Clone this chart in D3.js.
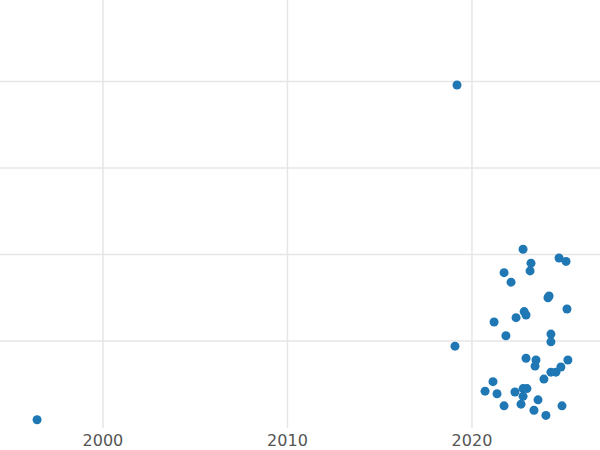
<!DOCTYPE html>
<html>
<head>
  <script src="https://d3js.org/d3.v7.min.js"></script>
  <style>body{margin:0;background:#fff;}</style>
</head>
<body>
<script>
  var years = [1996.43, 2019.19, 2019.08, 2022.77, 2023.2, 2024.72, 2025.1, 2021.74, 2023.15, 2022.12,
    2024.18, 2024.12, 2025.15, 2022.83, 2022.93, 2022.39, 2021.2, 2021.84, 2024.28, 2024.28,
    2022.93, 2023.47, 2025.2, 2023.42, 2024.28, 2024.55, 2024.82, 2023.9, 2021.14, 2020.71,
    2021.36, 2022.33, 2022.77, 2022.98, 2022.77, 2023.58, 2021.74, 2022.66, 2024.88, 2023.36, 2024.01];
  var values = [0.09, 3.96, 0.94, 2.06, 1.90, 1.96, 1.92, 1.79, 1.81, 1.68,
    1.52, 1.50, 1.37, 1.34, 1.30, 1.27, 1.22, 1.06, 1.08, 0.99,
    0.80, 0.78, 0.78, 0.71, 0.64, 0.64, 0.70, 0.56, 0.53, 0.42,
    0.39, 0.41, 0.45, 0.45, 0.36, 0.32, 0.25, 0.27, 0.25, 0.20, 0.14];
  var xTicks = [2000, 2010, 2020];
  var yGrid = [1, 2, 3, 4];

  var w = 600, h = 450;
  var svg = d3.select("body").append("svg").attr("width", w).attr("height", h);

  var x = d3.scaleLinear().domain([1994.42, 2026.94]).range([0, w]);
  var y = d3.scaleLinear().domain([0, 4.942]).range([427.5, 0]);

  svg.selectAll("line.h").data(yGrid).enter().append("line")
    .attr("x1", 0).attr("x2", w)
    .attr("y1", function(d){ return y(d); }).attr("y2", function(d){ return y(d); })
    .attr("stroke", "#e6e6e6").attr("stroke-width", 1.5);

  svg.selectAll("line.v").data(xTicks).enter().append("line")
    .attr("y1", 0).attr("y2", 428)
    .attr("x1", function(d){ return x(d); }).attr("x2", function(d){ return x(d); })
    .attr("stroke", "#e6e6e6").attr("stroke-width", 1.5);

  svg.selectAll("text.t").data(xTicks).enter().append("text")
    .attr("x", function(d){ return x(d); }).attr("y", 446)
    .attr("text-anchor", "middle")
    .attr("font-family", "DejaVu Sans, sans-serif").attr("font-size", 16)
    .attr("fill", "#555")
    .text(function(d){ return d; });

  svg.selectAll("circle").data(years).enter().append("circle")
    .attr("cx", function(d){ return x(d); })
    .attr("cy", function(d, i){ return y(values[i]); })
    .attr("r", 4.5)
    .attr("fill", "#1f77b4");
</script>
</body>
</html>
